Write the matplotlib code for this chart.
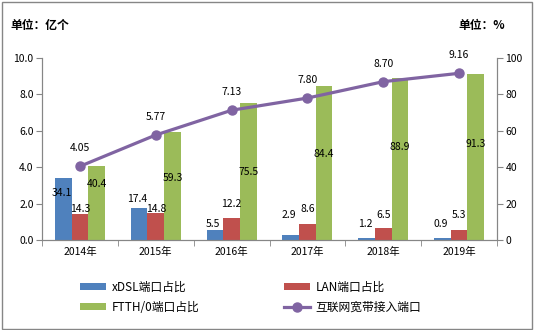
import numpy as np
import matplotlib.pyplot as plt
from matplotlib.patches import Rectangle

plt.rcParams['font.family'] = ['Noto Sans CJK SC', 'DejaVu Sans']

years = ['2014年', '2015年', '2016年', '2017年', '2018年', '2019年']
xdsl = [34.1, 17.4, 5.5, 2.9, 1.2, 0.9]
lan = [14.3, 14.8, 12.2, 8.6, 6.5, 5.3]
ftth = [40.4, 59.3, 75.5, 84.4, 88.9, 91.3]
ports = [4.05, 5.77, 7.13, 7.80, 8.70, 9.16]

# label placement (in % units of the right axis), as in the original
xdsl_lab_y = [26, 22.6, 9, 14, 9, 9]
lan_lab_y = [17, 17, 20, 17, 14, 14]
ftth_lab_y = [31, 34, 37.6, 47.5, 51, 52.5]

blue, red, green, purple = '#4F81BD', '#C0504D', '#9BBB59', '#8064A2'
grey = '#868686'
fs = 7.5

fig = plt.figure(figsize=(5.34, 3.30), dpi=100)
fig.patches.append(Rectangle((0.003, 0.004), 0.994, 0.99, transform=fig.transFigure,
                             fill=False, edgecolor=grey, linewidth=1))
ax = fig.add_axes([0.0787, 0.2727, 0.852, 0.5515])
ax2 = ax.twinx()
ax.set_zorder(ax2.get_zorder() + 1)
ax.patch.set_visible(False)

x = np.arange(len(years))
w = 0.22
b1 = ax2.bar(x - w, xdsl, w, color=blue, label='xDSL端口占比')
b2 = ax2.bar(x, lan, w, color=red, label='LAN端口占比')
b3 = ax2.bar(x + w, ftth, w, color=green, label='FTTH/0端口占比')
ln, = ax.plot(x, ports, color=purple, lw=2.3, marker='o', ms=6.5, label='互联网宽带接入端口')

for i in range(len(years)):
    ax2.text(x[i] - w * 1.1, xdsl_lab_y[i], f'{xdsl[i]:.1f}', ha='center', va='center', fontsize=fs)
    ax2.text(x[i], lan_lab_y[i], f'{lan[i]:.1f}', ha='center', va='center', fontsize=fs)
    ax2.text(x[i] + w, ftth_lab_y[i], f'{ftth[i]:.1f}', ha='center', va='center', fontsize=fs)
    ax.annotate(f'{ports[i]:.2f}', (x[i], ports[i]), xytext=(0, 13), textcoords='offset points',
                ha='center', va='center', fontsize=fs)

ax.set_xlim(-0.5, 5.5)
ax.set_ylim(0, 10)
ax2.set_ylim(0, 100)
ax.set_yticks(np.arange(0, 10.1, 2))
ax.set_yticklabels([f'{v:.1f}' for v in np.arange(0, 10.1, 2)])
ax2.set_yticks(np.arange(0, 101, 20))
ax.set_xticks(x)
ax.set_xticklabels(years)
ax.set_xticks(np.arange(-0.5, 5.6, 1), minor=True)
ax.tick_params(axis='x', which='major', length=0, labelsize=fs, pad=5)
ax.tick_params(axis='x', which='minor', length=4, color=grey, direction='out')
ax.tick_params(axis='y', length=4, color=grey, labelsize=fs, pad=2)
ax2.tick_params(axis='y', length=4, color=grey, labelsize=fs, pad=2)
for a in (ax, ax2):
    a.spines['top'].set_visible(False)
    for s in ('left', 'right', 'bottom'):
        a.spines[s].set_color(grey)

fig.text(0.019, 0.924, '单位：亿个', fontsize=8.5, fontweight='bold', va='center')
fig.text(0.946, 0.924, '单位：%', fontsize=8.5, fontweight='bold', va='center', ha='right')

fig.legend(handles=[b1, b3, b2, ln], loc='center left', bbox_to_anchor=(0.15, 0.10), ncol=2,
           frameon=False, fontsize=8.5, handlelength=2.2, handleheight=0.6,
           borderpad=0, borderaxespad=0,
           columnspacing=7.1, labelspacing=0.6, handletextpad=0.5)

fig.savefig('out.png', dpi=100)
